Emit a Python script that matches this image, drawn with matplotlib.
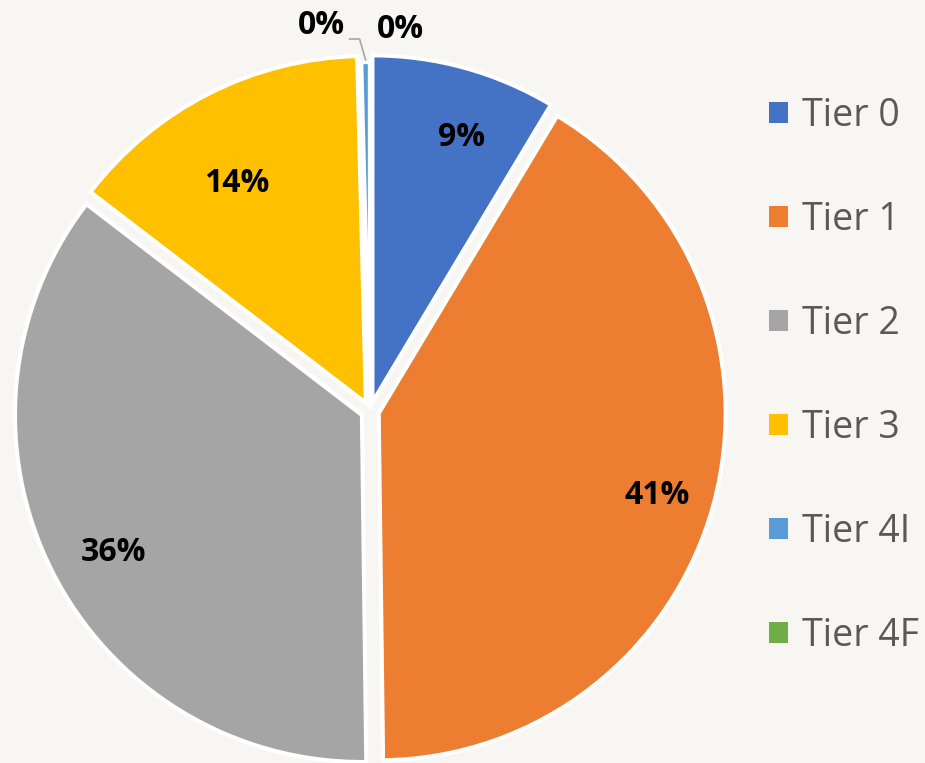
import numpy as np
import matplotlib.pyplot as plt
from matplotlib.patches import Patch

labels = ['Tier 0', 'Tier 1', 'Tier 2', 'Tier 3', 'Tier 4I', 'Tier 4F']
shares = [8.6, 41.2, 35.6, 14.2, 0.4, 0.0]
colors = ['#4472C4', '#ED7D31', '#A5A5A5', '#FFC000', '#5B9BD5', '#70AD47']

W, H = 925, 763
BG = '#f8f6f2'
plt.rcParams['font.family'] = ['Open Sans', 'DejaVu Sans']

fig = plt.figure(figsize=(W / 100, H / 100), dpi=100, facecolor=BG)
ax = fig.add_axes([0, 0, 1, 1])
ax.set_facecolor(BG)

cx, cy, r = 370, H - 411, 347
# explode is in data units here (1 unit = 1 pixel)
wedges, _ = ax.pie(shares, colors=colors, startangle=90, counterclock=False,
                   center=(cx, cy), radius=r, explode=[9] * 4 + [2, 2],
                   wedgeprops=dict(edgecolor='white', linewidth=3))
# pie resets the limits, so set them afterwards
ax.set_xlim(0, W)
ax.set_ylim(0, H)
ax.set_aspect('equal')
ax.axis('off')

# percentage labels inside the big slices (Excel "best fit" is not exactly mid-angle)
fracs = [0.834, 0.875, 0.859, 0.761]
nudge = [-3.2, -1.8, 2.7, 3.6]
for w, v, f, dt in zip(wedges[:4], shares[:4], fracs, nudge):
    th = np.deg2rad((w.theta1 + w.theta2) / 2 + dt)
    ax.text(cx + f * 343 * np.cos(th), cy + 3 + f * 343 * np.sin(th), '%.0f%%' % v,
            ha='center', va='center', fontsize=23, fontweight='bold', color='black')

# tiny slices: labels outside at the top
w4i, w4f = wedges[4], wedges[5]
th = np.deg2rad((w4i.theta1 + w4i.theta2) / 2)
tip = (w4i.center[0] + r * np.cos(th), w4i.center[1] + r * np.sin(th) + 2)
elbow = (tip[0] - 6, tip[1] + 21)
end = (elbow[0] - 10, elbow[1])
ax.plot([end[0], elbow[0], tip[0]], [end[1], elbow[1], tip[1]], color='#a6a6a6', lw=1.2)
ax.text(end[0] - 5, end[1] + 14, '%.0f%%' % shares[4], ha='right', va='center',
        fontsize=23, fontweight='bold', color='black')
th = np.deg2rad(w4f.theta1)
ax.text(w4f.center[0] + r * np.cos(th) + 30, w4f.center[1] + r * np.sin(th) + 33,
        '%.0f%%' % shares[5], ha='center', va='center',
        fontsize=23, fontweight='bold', color='black')

handles = [Patch(facecolor=c, edgecolor='none') for c in colors]
leg = ax.legend(handles, labels, loc='upper left', bbox_to_anchor=(769 / W, 1 - 97 / H),
                frameon=False, fontsize=27, labelcolor='#595959',
                handlelength=0.5, handleheight=0.5, handletextpad=0.37,
                labelspacing=1.76, borderpad=0, borderaxespad=0)

fig.savefig('out.png', dpi=100, facecolor=BG)
